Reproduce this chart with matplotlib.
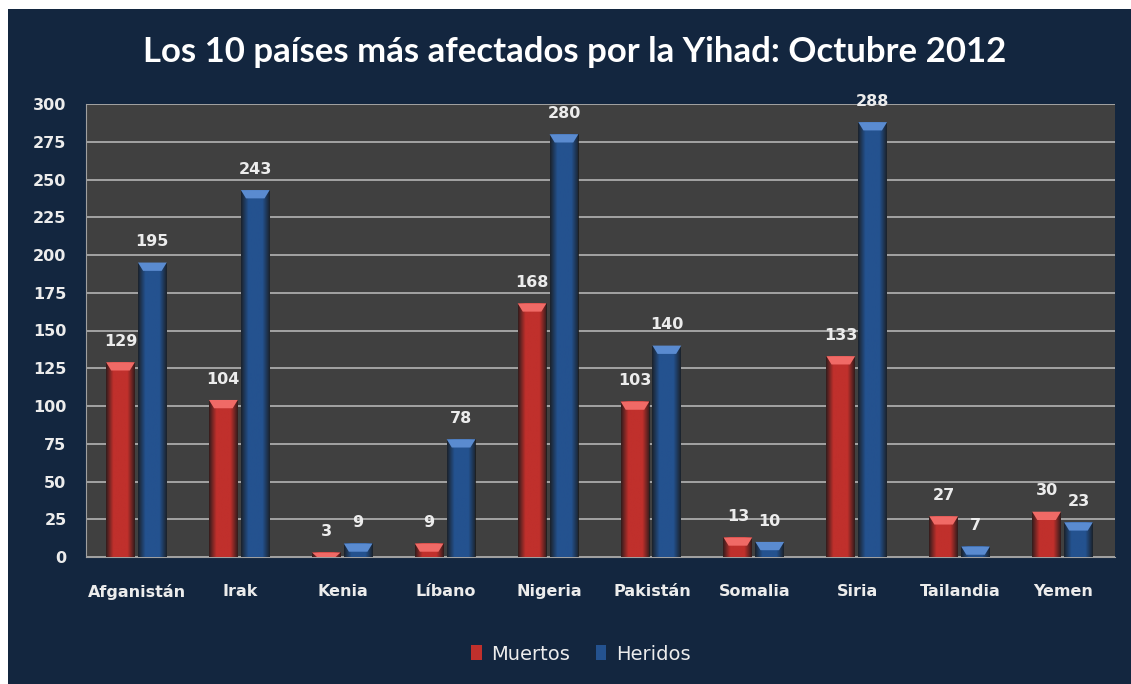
import numpy as np
import matplotlib.pyplot as plt
from matplotlib.patches import Rectangle, Polygon
from matplotlib.colors import LinearSegmentedColormap

paises = ['Afganistán', 'Irak', 'Kenia', 'Líbano', 'Nigeria',
          'Pakistán', 'Somalia', 'Siria', 'Tailandia', 'Yemen']
muertos = [129, 104, 3, 9, 168, 103, 13, 133, 27, 30]
heridos = [195, 243, 9, 78, 280, 140, 10, 288, 7, 23]
series = ['Muertos', 'Heridos']
yticks = list(range(0, 301, 25))

W, H = 1131, 684
navy = '#13263f'
red = '#c0302c'
blue = '#24528f'
txt = '#ececec'

plt.rcParams['font.family'] = ['DejaVu Sans']

fig = plt.figure(figsize=(W / 100, H / 100), dpi=100)
fig.patch.set_facecolor('white')
fig.patches.append(Rectangle((8 / W, 0), 1, 1 - 9 / H, transform=fig.transFigure,
                             facecolor=navy, edgecolor='none', zorder=-10))

ax = fig.add_axes([86 / W, (H - 557) / H, 1029 / W, 453 / H])
ax.set_facecolor('#404040')
ax.yaxis.grid(True, color='#b4b4b4', linewidth=1.2)
ax.set_axisbelow(True)
for s in ax.spines.values():
    s.set_visible(False)
for k in ['left', 'bottom']:
    ax.spines[k].set_visible(True)
    ax.spines[k].set_color('#a0a0a0')
ax.tick_params(length=0, colors=txt, labelsize=11.5)
ax.tick_params(axis='x', pad=19.5)
ax.tick_params(axis='y', pad=14)
x = np.arange(len(paises))

w = 0.28
chev = 5.5  # altura del chevron en unidades de datos
grad = np.linspace(0, 1, 64).reshape(1, -1)

for vals, off, col, lite in [(muertos, -0.165, red, '#f06a66'), (heridos, 0.145, blue, '#5a8bd0')]:
    cm = LinearSegmentedColormap.from_list('c', ['#1a1a1a', col, col, col, '#1a1a1a'])
    for xi, v in zip(x + off, vals):
        b = ax.bar(xi, v, w, color=col, zorder=2)[0]
        img = ax.imshow(grad, extent=[xi - w / 2, xi + w / 2, 0, v], aspect='auto',
                        cmap=cm, alpha=0.85, zorder=3)
        img.set_clip_path(b)
        h = min(chev, v)
        tri = Polygon([[xi - w / 2, v], [xi + w / 2, v], [xi + w / 2 - 0.05, v - h],
                       [xi - w / 2 + 0.05, v - h]], closed=True,
                      facecolor=lite, edgecolor='none', zorder=4)
        ax.add_patch(tri)
        ax.annotate(str(v), (xi, v), xytext=(0, 15), textcoords='offset points',
                    ha='center', va='center', color=txt, fontsize=11.5,
                    fontweight='bold', zorder=5)

ax.set_xlim(-0.5, len(paises) - 0.5)
ax.set_ylim(0, 300)
ax.set_yticks(yticks)
ax.set_xticks(x)
ax.set_xticklabels(paises)
for t in ax.get_xticklabels() + ax.get_yticklabels():
    t.set_fontweight('bold')

fig.text(575 / W, 1 - 52 / H, 'Los 10 países más afectados por la Yihad: Octubre 2012',
         ha='center', va='center', color='white', fontsize=25, fontweight='bold',
         family=['Lato', 'DejaVu Sans'])

handles = [Rectangle((0, 0), 1, 1, facecolor=red), Rectangle((0, 0), 1, 1, facecolor=blue)]
leg = fig.legend(handles, series, loc='center', bbox_to_anchor=(581 / W, 1 - 654 / H),
                 ncol=2, frameon=False, fontsize=14, handlelength=0.55, handleheight=0.8,
                 handletextpad=0.5, columnspacing=1.3)
for t in leg.get_texts():
    t.set_color(txt)

fig.savefig('out.png', dpi=100, facecolor=fig.get_facecolor())
